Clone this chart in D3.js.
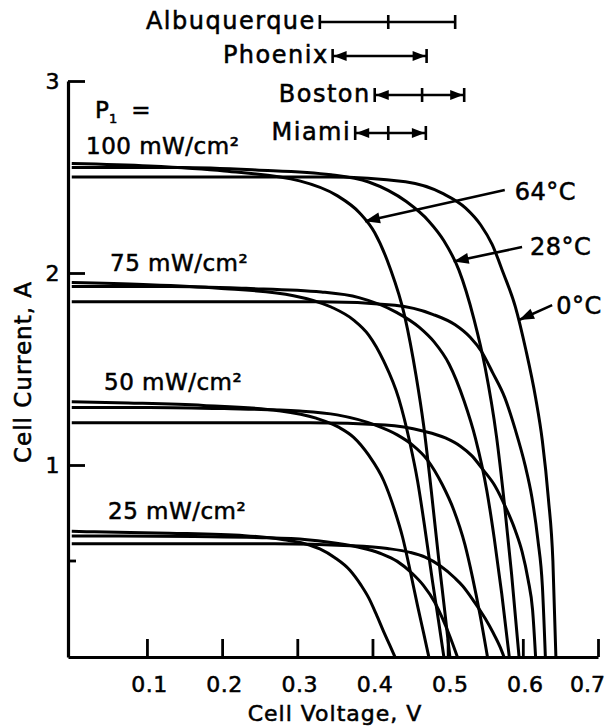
<!doctype html>
<html>
<head>
<meta charset="utf-8"/>
<title>Cell current vs cell voltage</title>
<script src="https://d3js.org/d3.v7.min.js"></script>
<style>
  body { margin: 0; background: #fff; }
  text { font-family: "DejaVu Sans", sans-serif; fill: #000; stroke: #000; stroke-width: 0.55px; }
</style>
</head>
<body>
<div id="chart"></div>
<script>
// ---- data ----
var irradianceLabels = ["100 mW/cm²", "75 mW/cm²", "50 mW/cm²", "25 mW/cm²"];
var tempLabels = ["64°C", "28°C", "0°C"];

var xTicks = [0.1, 0.2, 0.3, 0.4, 0.5, 0.6, 0.7];
var xTickLabels = ["0.1", "0.2", "0.3", "0.4", "0.5", "0.6", "0.7"];
var yTicks = [1, 2, 3];
var yTickLabels = ["1", "2", "3"];
var yMinorTicks = [0.5];

// [voltage V, current A]
var iv100_64 = [[0,2.57],[0.103,2.557],[0.203,2.531],[0.303,2.48],[0.353,2.403],[0.383,2.313],[0.403,2.21],[0.423,2.03],[0.443,1.773],[0.458,1.465],[0.468,1.208],[0.478,0.874],[0.488,0.514],[0.496,0.244],[0.503,0]];
var iv100_28 = [[0,2.55],[0.145,2.55],[0.245,2.537],[0.345,2.512],[0.395,2.474],[0.445,2.372],[0.475,2.27],[0.495,2.168],[0.515,2.015],[0.535,1.76],[0.55,1.505],[0.565,1.148],[0.575,0.816],[0.585,0.434],[0.595,0]];
var iv100_0  = [[0,2.5],[0.344,2.5],[0.444,2.475],[0.494,2.413],[0.524,2.338],[0.544,2.25],[0.559,2.15],[0.574,2.0],[0.59,1.825],[0.604,1.6],[0.617,1.35],[0.626,1.125],[0.634,0.825],[0.64,0.5],[0.644,0]];

var iv75_64 = [[0,1.95],[0.095,1.94],[0.195,1.921],[0.295,1.882],[0.345,1.823],[0.375,1.755],[0.395,1.677],[0.415,1.541],[0.435,1.346],[0.45,1.112],[0.46,0.917],[0.47,0.663],[0.48,0.39],[0.488,0.185],[0.495,0]];
var iv75_28 = [[0,1.93],[0.132,1.93],[0.232,1.92],[0.332,1.901],[0.382,1.872],[0.432,1.795],[0.462,1.718],[0.482,1.641],[0.502,1.525],[0.522,1.332],[0.537,1.139],[0.552,0.869],[0.562,0.618],[0.572,0.328],[0.582,0]];
var iv75_0  = [[0,1.85],[0.33,1.85],[0.43,1.832],[0.48,1.785],[0.51,1.73],[0.53,1.665],[0.545,1.591],[0.56,1.48],[0.576,1.351],[0.59,1.184],[0.603,0.999],[0.612,0.833],[0.62,0.611],[0.626,0.37],[0.63,0]];

var iv50_64 = [[0,1.33],[0.075,1.323],[0.175,1.31],[0.275,1.283],[0.325,1.244],[0.355,1.197],[0.375,1.144],[0.395,1.051],[0.415,0.918],[0.43,0.758],[0.44,0.625],[0.45,0.452],[0.46,0.266],[0.468,0.126],[0.475,0]];
var iv50_28 = [[0,1.3],[0.103,1.3],[0.203,1.294],[0.303,1.281],[0.353,1.261],[0.403,1.209],[0.433,1.157],[0.453,1.105],[0.473,1.027],[0.493,0.897],[0.508,0.767],[0.523,0.585],[0.533,0.416],[0.543,0.221],[0.553,0]];
var iv50_0  = [[0,1.22],[0.317,1.22],[0.417,1.208],[0.467,1.177],[0.497,1.141],[0.517,1.098],[0.532,1.049],[0.547,0.976],[0.563,0.891],[0.577,0.781],[0.59,0.659],[0.599,0.549],[0.607,0.403],[0.613,0.244],[0.617,0]];

var iv25_64 = [[0,0.655],[0.03,0.652],[0.13,0.645],[0.23,0.632],[0.28,0.612],[0.31,0.59],[0.33,0.563],[0.35,0.517],[0.37,0.452],[0.385,0.373],[0.395,0.308],[0.405,0.223],[0.415,0.131],[0.423,0.062],[0.43,0]];
var iv25_28 = [[0,0.63],[0.063,0.63],[0.163,0.627],[0.263,0.621],[0.313,0.611],[0.363,0.586],[0.393,0.561],[0.413,0.536],[0.433,0.498],[0.453,0.435],[0.468,0.372],[0.483,0.284],[0.493,0.202],[0.503,0.107],[0.513,0]];
var iv25_0  = [[0,0.59],[0.27,0.59],[0.37,0.58],[0.42,0.565],[0.45,0.545],[0.47,0.52],[0.49,0.475],[0.51,0.41],[0.52,0.37],[0.535,0.29],[0.55,0.2],[0.56,0.13],[0.57,0.05],[0.575,0]];

// city ranges on the voltage scale: [start, middle (or null), end]
var cities = ["Albuquerque", "Phoenix", "Boston", "Miami"];
var cityRanges = [[0.330, 0.421, 0.510], [0.347, null, 0.472], [0.403, 0.466, 0.522], [0.377, 0.421, 0.471]];
var cityArrows = [false, true, true, true];

// temperature call-outs: where the arrow touches the 100 mW curves, and where it starts
var tempTips  = [[0.39, 2.27], [0.508, 2.06], [0.595, 1.755]];
var tempTails = [[0.576, 2.432], [0.599, 2.135], [0.639, 1.833]];

// ---- layout ----
var W = 608, H = 726;
var svg = d3.select("#chart").append("svg")
    .attr("width", W)
    .attr("height", H);

var x = d3.scaleLinear().domain([-0.005, 0.7]).range([68, 598]);
var y = d3.scaleLinear().domain([0, 3]).range([657, 81]);

var curves = [iv100_64, iv100_28, iv100_0, iv75_64, iv75_28, iv75_0,
              iv50_64, iv50_28, iv50_0, iv25_64, iv25_28, iv25_0];

var line = d3.line()
    .x(function(d) { return x(d[0]); })
    .y(function(d) { return y(d[1]); })
    .curve(d3.curveMonotoneX);

svg.append("g").selectAll("path")
    .data(curves)
    .join("path")
    .attr("d", line)
    .attr("fill", "none")
    .attr("stroke", "#000")
    .attr("stroke-width", 3)
    .attr("stroke-linejoin", "round");

// x axis, ticks pointing up
var gx = svg.append("g")
    .attr("transform", "translate(0," + y(0) + ")")
    .call(d3.axisBottom(x).tickValues(xTicks)
        .tickFormat(function(d, i) { return xTickLabels[i]; })
        .tickSizeInner(-18).tickSizeOuter(0).tickPadding(19));

// y axis, ticks pointing right
var gy = svg.append("g")
    .attr("transform", "translate(" + x.range()[0] + ",0)")
    .call(d3.axisLeft(y).tickValues(yTicks)
        .tickFormat(function(d, i) { return yTickLabels[i]; })
        .tickSizeInner(-17).tickSizeOuter(0).tickPadding(8));

gy.selectAll(".minor")
    .data(yMinorTicks)
    .join("line")
    .attr("class", "minor")
    .attr("x1", 0).attr("x2", 8)
    .attr("y1", function(d) { return y(d); })
    .attr("y2", function(d) { return y(d); });

[gx, gy].forEach(function(g) {
  g.select(".domain").attr("stroke", "#000").attr("stroke-width", 3.2);
  g.selectAll("line").attr("stroke", "#000").attr("stroke-width", 2.8);
  g.selectAll("text")
    .attr("font-family", "DejaVu Sans")
    .attr("font-size", 22)
    .style("letter-spacing", "0.5px")
    .attr("fill", "#000");
});
// keep the last x label inside the frame, as in the original
gx.selectAll(".tick text")
    .style("letter-spacing", function(d, i) { return i === xTicks.length - 1 ? "0px" : "0.5px"; })
    .attr("dx", function(d, i) { return i === xTicks.length - 1 ? -11 : 2; });

// axis titles
svg.append("text")
    .attr("x", 335).attr("y", 721)
    .attr("text-anchor", "middle")
    .attr("font-size", 22)
    .style("letter-spacing", "1px")
    .text("Cell Voltage, V");

svg.append("text")
    .attr("transform", "translate(31,372) rotate(-90)")
    .attr("text-anchor", "middle")
    .attr("font-size", 23)
    .style("letter-spacing", "1px")
    .text("Cell Current, A");

// irradiance labels
var p = svg.append("text")
    .attr("x", 95).attr("y", 118)
    .attr("font-size", 23);
p.append("tspan").text("P");
p.append("tspan").attr("font-size", 13).attr("dy", 5).text("1");
p.append("tspan").attr("dy", -5).attr("dx", 14).text("=");

var irrX = [86, 110, 104, 108];
var irrIsc = [iv100_64[0][1], iv75_64[0][1], iv50_64[0][1], iv25_64[0][1]];
svg.append("g").selectAll("text")
    .data(irradianceLabels)
    .join("text")
    .attr("x", function(d, i) { return irrX[i]; })
    .attr("y", function(d, i) { return y(irrIsc[i]) - (i === 0 ? 10 : 12); })
    .attr("font-size", 23)
    .style("letter-spacing", "0.5px")
    .text(function(d) { return d; });

// arrowhead helper
function arrowHead(tx, ty, fx, fy, len, half) {
  var dx = tx - fx, dy = ty - fy, L = Math.sqrt(dx * dx + dy * dy);
  var ux = dx / L, uy = dy / L;
  var bx = tx - ux * len, by = ty - uy * len;
  return "M" + tx + "," + ty +
         "L" + (bx - uy * half) + "," + (by + ux * half) +
         "L" + (bx + uy * half) + "," + (by - ux * half) + "Z";
}

// temperature call-outs
var tempTextDx = [10, 8, 4];
var tempTextDy = [10, 8, 9];
tempLabels.forEach(function(t, i) {
  var tx = x(tempTips[i][0]), ty = y(tempTips[i][1]);
  var fx = x(tempTails[i][0]), fy = y(tempTails[i][1]);
  svg.append("line")
      .attr("x1", fx).attr("y1", fy).attr("x2", tx).attr("y2", ty)
      .attr("stroke", "#000").attr("stroke-width", 2.6);
  svg.append("path")
      .attr("d", arrowHead(tx, ty, fx, fy, 15, 5.5))
      .attr("fill", "#000");
  svg.append("text")
      .attr("x", fx + tempTextDx[i]).attr("y", fy + tempTextDy[i])
      .attr("font-size", 24)
      .style("letter-spacing", "0.5px")
      .text(t);
});

// city range bars along the top
var cityBaseline = [29, 63, 102, 140];
cities.forEach(function(c, i) {
  var r = cityRanges[i];
  var x0 = x(r[0]), x1 = x(r[2]);
  var by = cityBaseline[i] - 7;
  var g = svg.append("g").attr("stroke", "#000").attr("stroke-width", 2.6);
  g.append("line").attr("x1", x0).attr("x2", x1).attr("y1", by).attr("y2", by);
  g.append("line").attr("x1", x0).attr("x2", x0).attr("y1", by - 7).attr("y2", by + 7);
  g.append("line").attr("x1", x1).attr("x2", x1).attr("y1", by - 7).attr("y2", by + 7);
  if (r[1] !== null) {
    var xm = x(r[1]);
    g.append("line").attr("x1", xm).attr("x2", xm).attr("y1", by - 7).attr("y2", by + 7);
  }
  if (cityArrows[i]) {
    svg.append("path").attr("d", arrowHead(x0 + 1, by, x0 + 20, by, 13, 5)).attr("fill", "#000");
    svg.append("path").attr("d", arrowHead(x1 - 1, by, x1 - 20, by, 13, 5)).attr("fill", "#000");
  }
  svg.append("text")
      .attr("x", x0 - 4).attr("y", cityBaseline[i])
      .attr("text-anchor", "end")
      .attr("font-size", 24)
      .style("letter-spacing", "1.5px")
      .text(c);
});
</script>
</body>
</html>
